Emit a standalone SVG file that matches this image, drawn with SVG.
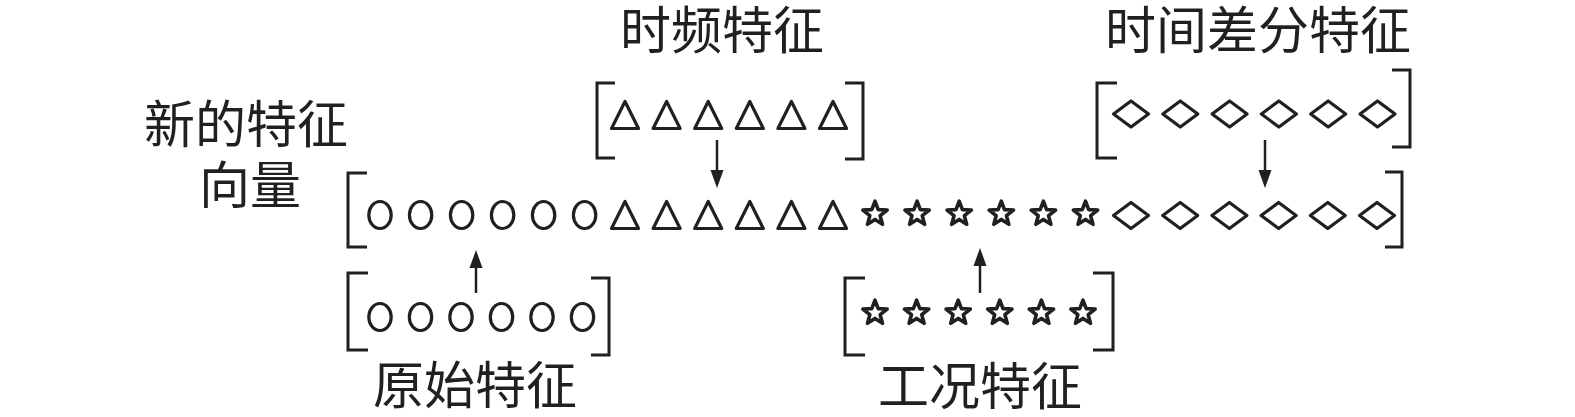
<svg xmlns="http://www.w3.org/2000/svg" xmlns:xlink="http://www.w3.org/1999/xlink" width="1575" height="417" viewBox="0 0 1575 417">
<style>
.lbl{font-family:"Liberation Serif","Noto Sans CJK SC",serif;font-size:51px;fill:#231f20;text-anchor:middle}
.br{fill:none;stroke:#231f20;stroke-width:3}
.sh{fill:none;stroke:#231f20;stroke-width:3.2;stroke-linejoin:round}
.st{fill:none;stroke:#231f20;stroke-width:3.6;stroke-linejoin:round}
.ln{stroke:#231f20;stroke-width:2.5}
.hd{fill:#231f20}
</style>
<defs>
<ellipse id="c" cx="0" cy="0" rx="11.2" ry="13.5" class="sh" stroke-width="3"/>
<path id="t" d="M-13.5,13.5 L0,-13.5 L13.5,13.5 Z" class="sh"/>
<path id="s" d="M0,-12.8 L3.2,-4.4 L12.17,-3.95 L5.16,1.68 L7.52,10.35 L0,5.45 L-7.52,10.35 L-5.16,1.68 L-12.17,-3.95 L-3.2,-4.4 Z" class="st"/>
<path id="d" d="M-17.5,0 L0,-13 L17.5,0 L0,13 Z" class="sh"/>
</defs>
<rect width="1575" height="417" fill="#ffffff"/>

<g id="label-vector">
<text class="lbl" x="246" y="143">新的特征</text>
<text class="lbl" x="250" y="204">向量</text>
</g>

<g id="new-feature-vector">
<path class="br" d="M367,173 H348 V247 H367"/>
<path class="br" d="M1385,172 H1402 V247 H1385"/>
<use xlink:href="#c" x="380" y="215"/>
<use xlink:href="#c" x="420.6" y="215"/>
<use xlink:href="#c" x="461.6" y="215"/>
<use xlink:href="#c" x="502.6" y="215"/>
<use xlink:href="#c" x="543.6" y="215"/>
<use xlink:href="#c" x="584.6" y="215"/>
<use xlink:href="#t" x="625" y="215"/>
<use xlink:href="#t" x="666.6" y="215"/>
<use xlink:href="#t" x="708.2" y="215"/>
<use xlink:href="#t" x="749.8" y="215"/>
<use xlink:href="#t" x="791.4" y="215"/>
<use xlink:href="#t" x="833" y="215"/>
<use xlink:href="#s" x="875" y="214"/>
<use xlink:href="#s" x="917.1" y="214"/>
<use xlink:href="#s" x="959.2" y="214"/>
<use xlink:href="#s" x="1001.3" y="214"/>
<use xlink:href="#s" x="1043.4" y="214"/>
<use xlink:href="#s" x="1085.5" y="214"/>
<use xlink:href="#d" x="1131" y="215.5"/>
<use xlink:href="#d" x="1180.2" y="215.5"/>
<use xlink:href="#d" x="1229.4" y="215.5"/>
<use xlink:href="#d" x="1278.6" y="215.5"/>
<use xlink:href="#d" x="1327.8" y="215.5"/>
<use xlink:href="#d" x="1377" y="215.5"/>
</g>

<g id="time-frequency-features">
<text class="lbl" x="722" y="49">时频特征</text>
<path class="br" d="M615,83 H597 V158 H615"/>
<path class="br" d="M845,83 H863 V159 H845"/>
<use xlink:href="#t" x="625" y="115"/>
<use xlink:href="#t" x="666.6" y="115"/>
<use xlink:href="#t" x="708.2" y="115"/>
<use xlink:href="#t" x="749.8" y="115"/>
<use xlink:href="#t" x="791.4" y="115"/>
<use xlink:href="#t" x="833" y="115"/>
</g>

<g id="time-difference-features">
<text class="lbl" x="1258" y="49">时间差分特征</text>
<path class="br" d="M1117,83 H1097 V158 H1117"/>
<path class="br" d="M1392,70 H1410 V147 H1392"/>
<use xlink:href="#d" x="1131" y="114"/>
<use xlink:href="#d" x="1180.3" y="114"/>
<use xlink:href="#d" x="1229.6" y="114"/>
<use xlink:href="#d" x="1278.9" y="114"/>
<use xlink:href="#d" x="1328.2" y="114"/>
<use xlink:href="#d" x="1377.5" y="114"/>
</g>

<g id="original-features">
<path class="br" d="M368,273 H348 V350 H368"/>
<path class="br" d="M591,278 H609 V355 H591"/>
<use xlink:href="#c" x="380" y="317"/>
<use xlink:href="#c" x="420.5" y="317"/>
<use xlink:href="#c" x="461" y="317"/>
<use xlink:href="#c" x="501.5" y="317"/>
<use xlink:href="#c" x="542" y="317"/>
<use xlink:href="#c" x="582.5" y="317"/>
<text class="lbl" x="475" y="404">原始特征</text>
</g>

<g id="working-condition-features">
<path class="br" d="M865,278 H845 V355 H865"/>
<path class="br" d="M1093,273 H1113 V350 H1093"/>
<use xlink:href="#s" x="875" y="313"/>
<use xlink:href="#s" x="916.6" y="313"/>
<use xlink:href="#s" x="958.2" y="313"/>
<use xlink:href="#s" x="999.8" y="313"/>
<use xlink:href="#s" x="1041.4" y="313"/>
<use xlink:href="#s" x="1083" y="313"/>
<text class="lbl" x="980" y="405">工况特征</text>
</g>

<g id="connectors">
<line class="ln" x1="717" y1="140" x2="717" y2="172"/>
<polygon class="hd" points="710.5,170 723.5,170 717,188"/>
<line class="ln" x1="1265" y1="140" x2="1265" y2="172"/>
<polygon class="hd" points="1258.5,170 1271.5,170 1265,188"/>
<line class="ln" x1="476" y1="293" x2="476" y2="266"/>
<polygon class="hd" points="469.5,268 482.5,268 476,250"/>
<line class="ln" x1="980" y1="293" x2="980" y2="264"/>
<polygon class="hd" points="973.5,266 986.5,266 980,248"/>
</g>
</svg>
